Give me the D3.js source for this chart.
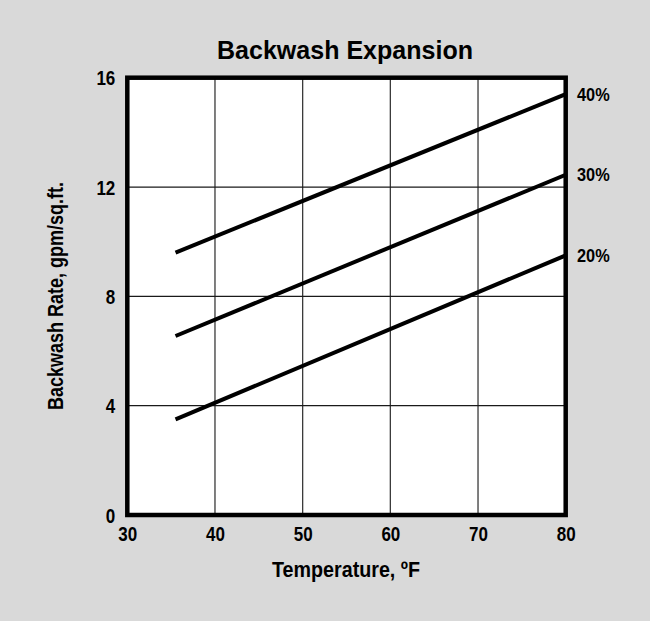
<!DOCTYPE html>
<html>
<head>
<meta charset="utf-8">
<script src="https://cdn.jsdelivr.net/npm/d3@7"></script>
<style>
  html, body { margin: 0; padding: 0; background: #d9d9d9; }
  svg { display: block; }
  text { font-family: "Liberation Sans Narrow", "Arial Narrow", "Liberation Sans", Arial, sans-serif; font-weight: bold; fill: #000; }
</style>
</head>
<body>
<svg id="chart" width="650" height="621"></svg>
<script>
// ---- data ----
const xTicks = [30, 40, 50, 60, 70, 80];
const yTicks = [0, 4, 8, 12, 16];
const seriesNames = ["20%", "30%", "40%"];
const temps = [35.5, 80];
const rate20 = [3.5, 9.5];
const rate30 = [6.55, 12.45];
const rate40 = [9.6, 15.4];

const series = [
  { name: seriesNames[0], values: rate20 },
  { name: seriesNames[1], values: rate30 },
  { name: seriesNames[2], values: rate40 }
];

// ---- layout ----
const svg = d3.select("#chart");
const W = 650, H = 621;
svg.append("rect").attr("width", W).attr("height", H).attr("fill", "#d9d9d9");

const pL = 127.3, pR = 565.7, pT = 77.7, pB = 515;
const x = d3.scaleLinear().domain([30, 80]).range([pL, pR]);
const y = d3.scaleLinear().domain([0, 16]).range([pB, pT]);
const FONT = '"Liberation Sans Narrow", "Arial Narrow", "Liberation Sans", Arial, sans-serif';

// plot background
svg.append("rect")
  .attr("x", pL).attr("y", pT)
  .attr("width", pR - pL).attr("height", pB - pT)
  .attr("fill", "#fff");

// gridlines
svg.append("g").selectAll("line").data(xTicks.slice(1, -1)).join("line")
  .attr("x1", d => x(d)).attr("x2", d => x(d))
  .attr("y1", pT).attr("y2", pB)
  .attr("stroke", "#3a3a3a").attr("stroke-width", 1.3);
svg.append("g").selectAll("line").data(yTicks.slice(1, -1)).join("line")
  .attr("x1", pL).attr("x2", pR)
  .attr("y1", d => y(d)).attr("y2", d => y(d))
  .attr("stroke", "#1a1a1a").attr("stroke-width", 1.2);

// clip for lines
svg.append("clipPath").attr("id", "clip")
  .append("rect").attr("x", pL).attr("y", pT)
  .attr("width", pR - pL).attr("height", pB - pT);

const line = d3.line().x(d => x(d[0])).y(d => y(d[1]));
svg.append("g").attr("clip-path", "url(#clip)")
  .selectAll("path").data(series).join("path")
  .attr("d", s => line(temps.map((t, i) => [t, s.values[i]])))
  .attr("fill", "none").attr("stroke", "#000").attr("stroke-width", 4)
  .attr("stroke-linecap", "butt");

// frame
svg.append("rect")
  .attr("x", pL).attr("y", pT)
  .attr("width", pR - pL).attr("height", pB - pT)
  .attr("fill", "none").attr("stroke", "#000").attr("stroke-width", 4.5);

// axes tick labels (via d3 axes, domain/ticks hidden)
const xAxis = d3.axisBottom(x).tickValues(xTicks).tickSize(0).tickPadding(0);
const gx = svg.append("g").attr("transform", `translate(0,${pB + 26})`).call(xAxis);
gx.select(".domain").remove();
gx.selectAll("text").attr("font-size", 20).attr("dy", 0);

const yAxis = d3.axisLeft(y).tickValues(yTicks).tickSize(0).tickPadding(0);
const gy = svg.append("g").attr("transform", `translate(${pL - 12},0)`).call(yAxis);
gy.select(".domain").remove();
gy.selectAll("text").attr("font-size", 20).attr("dy", "0.36em");
svg.selectAll("g").attr("font-family", null);
svg.selectAll(".tick text")
  .style("font-family", FONT).style("font-weight", "bold").attr("fill", "#000")
  .attr("transform", "scale(0.85,1)");

// series labels on the right
svg.append("g").selectAll("text").data(series).join("text")
  .attr("transform", s => `translate(577,${y(s.values[1]) + 6.5}) scale(0.86,1)`)
  .attr("font-size", 19)
  .text(s => s.name);

// titles
svg.append("text")
  .attr("x", 345).attr("y", 59.3)
  .attr("text-anchor", "middle")
  .attr("font-size", 25)
  .attr("textLength", 256).attr("lengthAdjust", "spacingAndGlyphs")
  .text("Backwash Expansion");

svg.append("text")
  .attr("x", 346).attr("y", 577)
  .attr("text-anchor", "middle")
  .attr("font-size", 22)
  .attr("textLength", 148).attr("lengthAdjust", "spacingAndGlyphs")
  .text("Temperature, ºF");

svg.append("text")
  .attr("transform", "translate(63,296) rotate(-90)")
  .attr("text-anchor", "middle")
  .attr("font-size", 22)
  .attr("textLength", 228).attr("lengthAdjust", "spacingAndGlyphs")
  .text("Backwash Rate, gpm/sq.ft.");
</script>
</body>
</html>
